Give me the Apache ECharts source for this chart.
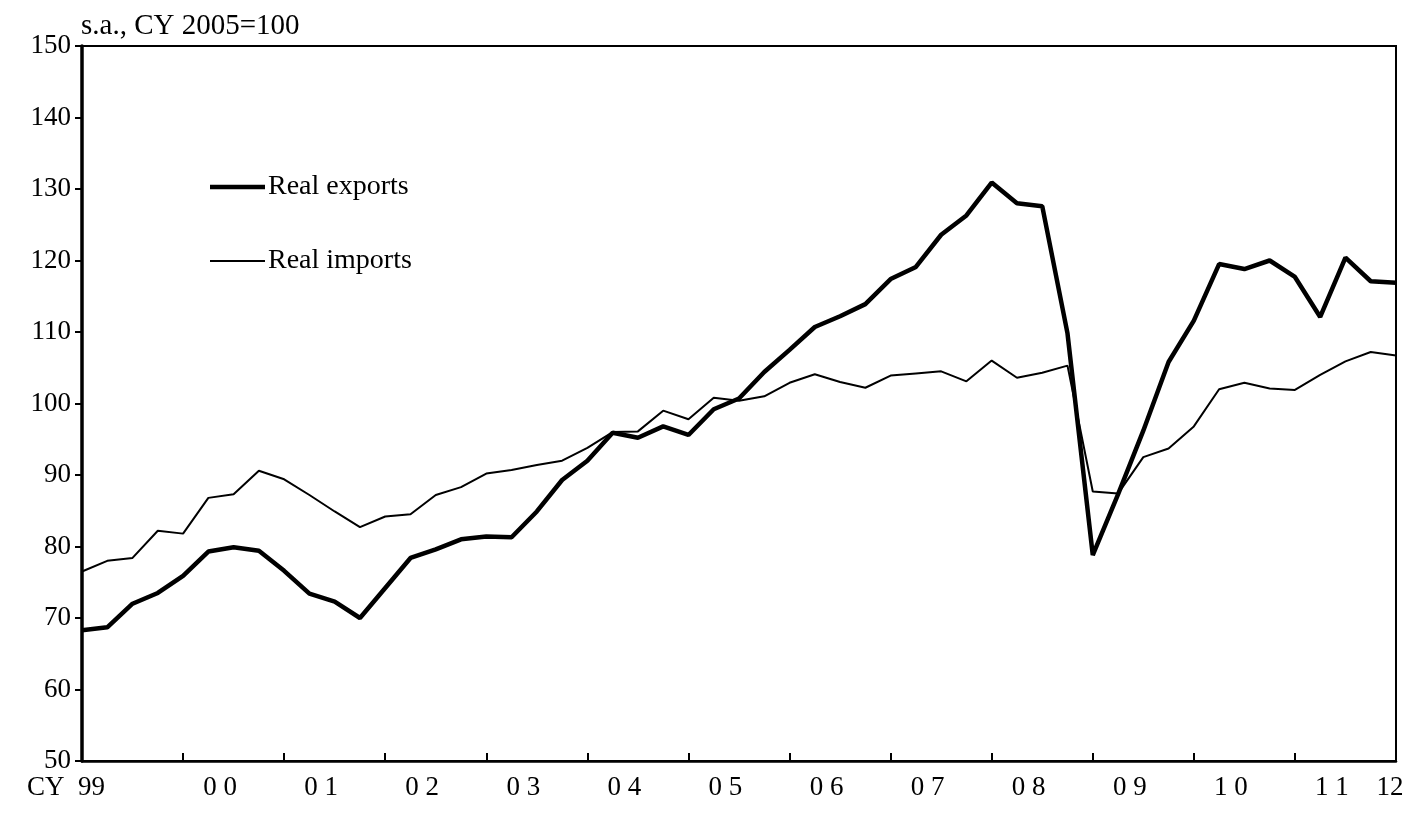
<!DOCTYPE html>
<html>
<head>
<meta charset="utf-8">
<script src="https://cdn.jsdelivr.net/npm/echarts@6/dist/echarts.min.js"></script>
<style>
html,body{margin:0;padding:0;background:#fff;}
#chart{width:1412px;height:813px;}
</style>
</head>
<body>
<div id="chart"></div>
<script>
// Quarterly observations, 1999Q1 .. 2012Q1
const quarters = [];
for (let y = 1999; y <= 2012; y++) {
  for (let q = 1; q <= 4; q++) {
    if (y === 2012 && q > 1) break;
    quarters.push(y + 'Q' + q);
  }
}
// Year tick labels (placed at each Q1)
const yearLabels = ['CY  99', '0 0', '0 1', '0 2', '0 3', '0 4', '0 5', '0 6', '0 7', '0 8', '0 9', '1 0', '1 1', '12'];

const realExports = [
  68.3, 68.7, 72.0, 73.5, 75.9, 79.3, 79.9, 79.4,
  76.6, 73.4, 72.3, 70.0, 74.2, 78.4, 79.6, 81.0,
  81.4, 81.3, 84.9, 89.3, 92.0, 95.9, 95.2, 96.8,
  95.6, 99.2, 100.7, 104.4, 107.5, 110.7, 112.2, 113.9,
  117.4, 119.1, 123.6, 126.3, 130.9, 128.0, 127.6, 109.8,
  78.8, 87.3, 96.2, 105.8, 111.6, 119.5, 118.8, 120.0,
  117.7, 112.1, 120.4, 117.1, 116.9
];
const realImports = [
  76.5, 78.0, 78.4, 82.2, 81.8, 86.8, 87.3, 90.6,
  89.4, 87.2, 84.9, 82.7, 84.2, 84.5, 87.2, 88.3,
  90.2, 90.7, 91.4, 92.0, 93.8, 96.0, 96.1, 99.0,
  97.8, 100.8, 100.4, 101.0, 102.9, 104.1, 103.0, 102.2,
  103.9, 104.2, 104.5, 103.1, 106.0, 103.6, 104.3, 105.3,
  87.7, 87.4, 92.5, 93.7, 96.8, 102.0, 102.9, 102.1,
  101.9, 104.0, 105.9, 107.2, 106.7
];

const FONT = '"Liberation Serif", "Times New Roman", serif';
const chart = echarts.init(document.getElementById('chart'), null, {renderer: 'canvas'});

function legendFor(name, top, thickness) {
  return {
    orient: 'vertical',
    left: 210,
    top: top,
    padding: 0,
    itemWidth: 55,
    itemHeight: thickness,
    icon: 'rect',
    itemStyle: {color: '#000', borderWidth: 0},
    selectedMode: false,
    textStyle: {fontFamily: FONT, fontSize: 28, color: '#000', padding: [0, 0, 0, -2]},
    data: [name]
  };
}

chart.setOption({
  animation: false,
  backgroundColor: '#fff',
  title: {
    text: 's.a., CY 2005=100',
    left: 81,
    top: 12,
    padding: 0,
    textStyle: {fontFamily: FONT, fontSize: 29, fontWeight: 'normal', color: '#000'}
  },
  legend: [
    legendFor('Real exports', 173, 4.5),
    legendFor('Real imports', 247, 2)
  ],
  grid: {
    left: 82, right: 16, top: 46, bottom: 52,
    show: true, borderColor: '#000', borderWidth: 2, backgroundColor: 'transparent'
  },
  xAxis: {
    type: 'category',
    data: quarters,
    boundaryGap: false,
    axisLine: {lineStyle: {color: '#000', width: 2.5}},
    axisTick: {
      inside: true, length: 8,
      lineStyle: {color: '#000', width: 2},
      interval: function (i) { return i % 4 === 0 && i < quarters.length - 1; }
    },
    axisLabel: {
      interval: function (i) { return i % 4 === 0; },
      margin: 13,
      fontFamily: FONT, fontSize: 27, color: '#000',
      formatter: function (v, i) {
        const lab = yearLabels[i / 4];
        if (i === 0) return '{first|' + lab + '}';
        if (i === quarters.length - 1) return '{last|' + lab + '}';
        return '{mid|' + lab + '}';
      },
      rich: {
        first: {fontFamily: FONT, fontSize: 27, color: '#000', padding: [0, 32, 0, 0]},
        mid: {fontFamily: FONT, fontSize: 27, color: '#000', padding: [0, 0, 0, 74]},
        last: {fontFamily: FONT, fontSize: 27, color: '#000', padding: [0, 12, 0, 0]}
      }
    },
    splitLine: {show: false}
  },
  yAxis: {
    type: 'value',
    min: 50, max: 150, interval: 10,
    axisLine: {show: true, lineStyle: {color: '#000', width: 3.5}},
    axisTick: {show: true, inside: false, length: 7, lineStyle: {color: '#000', width: 2}},
    axisLabel: {margin: 11, fontFamily: FONT, fontSize: 27, color: '#000'},
    splitLine: {show: false}
  },
  series: [
    {
      name: 'Real exports', type: 'line', data: realExports,
      symbol: 'none', lineStyle: {color: '#000', width: 4.5}, itemStyle: {color: '#000'}, z: 3
    },
    {
      name: 'Real imports', type: 'line', data: realImports,
      symbol: 'none', lineStyle: {color: '#000', width: 2}, itemStyle: {color: '#000'}, z: 2
    }
  ]
});
</script>
</body>
</html>
